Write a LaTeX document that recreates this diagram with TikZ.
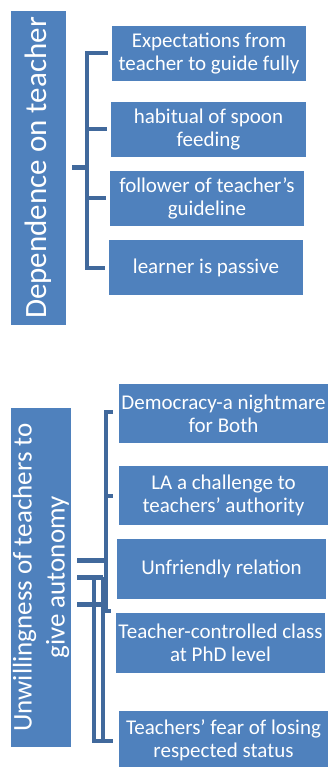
\documentclass[tikz,border=0pt]{standalone}
\usepackage{fontspec}
\setmainfont{Carlito}
\usetikzlibrary{positioning}
\definecolor{boxblue}{HTML}{4F81BD}
\definecolor{lineblue}{HTML}{41699C}

\begin{document}
\begin{tikzpicture}[x=1pt,y=-1pt,
  item/.style={fill=boxblue, text=white, inner sep=1pt, align=center,
    minimum width=194pt, minimum height=55pt, font=\fontsize{21}{23}\selectfont},
  title/.style={fill=boxblue, text=white, inner sep=1pt, align=center, rotate=90},
  brace/.style={lineblue, line width=4pt},
  stub/.style={lineblue, line width=5pt}]

\useasboundingbox (0,0) rectangle (330,767);

% dependence on teacher
{
\node[title, minimum width=314pt, minimum height=55pt,
  font=\fontsize{31}{37}\selectfont] (dep) at (38.5,168) {Dependence on teacher};

\node[item] (d1) at (209,53.5) {Expectations from\\teacher to guide fully};
\node[item, minimum width=195pt] (d2) at (208.5,129.5) {habitual of spoon\\feeding};
\node[item] (d3) at (207,198.5) {follower of teacher’s\\guideline};
\node[item] (d4) at (206,267.5) {learner is passive};

\coordinate (depspine) at (87,168);
\draw[stub] ([xshift=6pt]dep.south) -- (depspine);
\foreach \d in {d1,d2,d3,d4}
  \draw[brace, shorten >=4pt] (depspine) |- (\d.west);
}

% unwillingness of teachers
{
\node[title, minimum width=339pt, minimum height=60pt,
  font=\fontsize{27}{33}\selectfont] (unw) at (41,577.5)
  {Unwillingness of teachers to\\give autonomy};

\node[item, minimum width=209pt, minimum height=59pt] (u1) at (223.5,413.5) {Democracy-a nightmare\\for Both};
\node[item, minimum width=209pt, minimum height=59pt] (u2) at (223.5,495.5) {LA a challenge to\\teachers’ authority};
\node[item, minimum width=209pt, minimum height=60pt] (u3) at (221.5,569) {Unfriendly relation};
\node[item, minimum width=209pt, minimum height=60pt] (u4) at (220.5,643) {Teacher-controlled class\\at PhD level};
\node[item, minimum width=209pt, minimum height=59pt] (u5) at (223.5,740) {Teachers’ fear of losing\\respected status};

%brackets
\coordinate (stubA) at (77,560);
\coordinate (stubB) at (77,577);
\coordinate (stubC) at (77,604);

\draw[stub] (stubA) -- (106,560);
\draw[brace] (113,412) -- (106,412) -- (106,611) -- (111,611);
\draw[brace] (106,496) -- (113,496);

\draw[stub] (stubB) -- (103,577);
\draw[brace] (94,577) -- (94,741) -- (103,741);

\draw[stub] (stubC) -- (106,604);
\draw[brace] (103,577) -- (103,741) -- (113,741);
}

\end{tikzpicture}
\end{document}
